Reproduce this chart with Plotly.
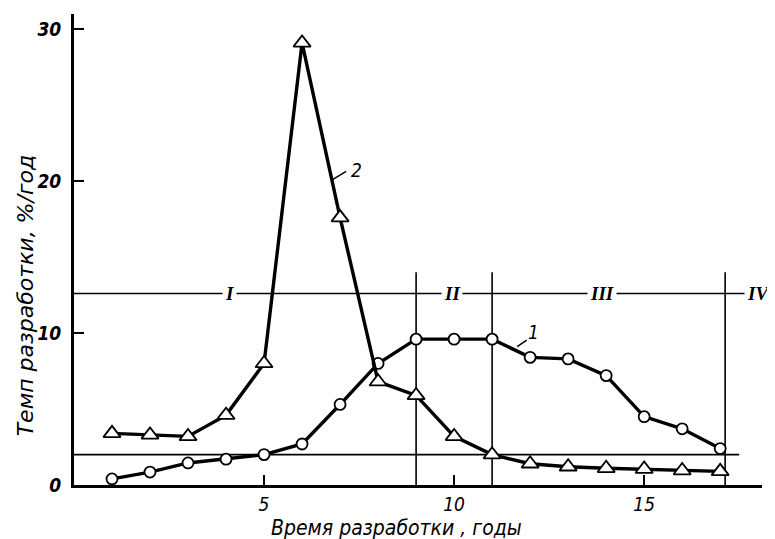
import plotly.graph_objects as go

years = list(range(1, 18))
rate_1 = [0.4, 0.85, 1.45, 1.7, 2.0, 2.7, 5.3, 8.0, 9.6, 9.6, 9.6, 8.4, 8.3, 7.2, 4.5, 3.7, 2.4]
rate_2 = [3.4, 3.3, 3.2, 4.6, 8.0, 29.1, 17.6, 6.8, 5.9, 3.2, 2.0, 1.4, 1.2, 1.1, 1.05, 0.95, 0.9]

x_ticks = [5, 10, 15]
y_ticks = [0, 10, 20, 30]

stage_bounds = [9, 11, 17.13]
stage_level = 12.6
stage_line_end = 17.7
stage_labels = ["I", "II", "III", "IV"]
stage_label_x = [4.1, 9.95, 13.9, 18.0]
low_level = 2.0
low_line_end = 17.5

FONT = "DejaVu Sans Condensed"

fig = go.Figure()

# reference lines
fig.add_trace(go.Scatter(x=[0, stage_line_end], y=[stage_level, stage_level], mode="lines",
                         line=dict(color="black", width=1.6), hoverinfo="skip", showlegend=False))
fig.add_trace(go.Scatter(x=[0, low_line_end], y=[low_level, low_level], mode="lines",
                         line=dict(color="black", width=1.6), hoverinfo="skip", showlegend=False))
for b in stage_bounds:
    fig.add_trace(go.Scatter(x=[b, b], y=[0, 14.0], mode="lines",
                             line=dict(color="black", width=1.6), hoverinfo="skip", showlegend=False))

# curves
fig.add_trace(go.Scatter(x=years, y=rate_1, mode="lines+markers",
                         line=dict(color="black", width=3.4),
                         marker=dict(symbol="circle", size=11, color="white",
                                     line=dict(color="black", width=1.8)),
                         showlegend=False))
fig.add_trace(go.Scatter(x=years, y=rate_2, mode="lines+markers",
                         line=dict(color="black", width=3.4),
                         marker=dict(symbol="triangle-up", size=15, color="white",
                                     line=dict(color="black", width=1.8)),
                         showlegend=False))

# stage labels (white background makes gaps in the line)
for lab, lx in zip(stage_labels, stage_label_x):
    fig.add_annotation(x=lx, y=stage_level, text=lab, showarrow=False, xref="x", yref="y",
                       bgcolor="white", borderpad=2,
                       font=dict(family="Liberation Serif", size=19, color="black", style="italic",
                                 weight="bold"))

# curve labels with leaders
fig.add_annotation(x=6.8, y=20.1, ax=7.2, ay=20.7, axref="x", ayref="y", xref="x", yref="y",
                   text="", showarrow=True, arrowhead=0, arrowwidth=1.5, arrowcolor="black")
fig.add_annotation(x=7.42, y=20.7, text="2", showarrow=False,
                   font=dict(family=FONT, size=19, color="black", style="italic"))
fig.add_annotation(x=11.66, y=9.1, ax=11.95, ay=9.6, axref="x", ayref="y", xref="x", yref="y",
                   text="", showarrow=True, arrowhead=0, arrowwidth=1.5, arrowcolor="black")
fig.add_annotation(x=12.08, y=10.1, text="1", showarrow=False,
                   font=dict(family=FONT, size=19, color="black", style="italic"))

# axis titles (paper coordinates)
fig.add_annotation(x=0.469, y=-0.091, xref="paper", yref="paper", xanchor="center", yanchor="middle",
                   text="Время разработки , годы", showarrow=False,
                   font=dict(family=FONT, size=21, color="black", style="italic"))
fig.add_annotation(x=-0.071, y=0.403, xref="paper", yref="paper", xanchor="center", yanchor="middle",
                   text="Темп разработки, %/год", showarrow=False, textangle=-90,
                   font=dict(family="DejaVu Sans", size=22, color="black", style="italic"))

# page body has an 8px margin, so the figure is sized to fit the window
fig.update_layout(
    width=767, height=531,
    margin=dict(l=66, r=13, t=6, b=54),
    paper_bgcolor="white", plot_bgcolor="white",
    xaxis=dict(range=[0, 18.1], tickvals=x_ticks, ticks="inside", ticklen=10, tickwidth=2,
               tickcolor="black", showline=True, linecolor="black", linewidth=3,
               showgrid=False, zeroline=False, ticklabelstandoff=0,
               tickfont=dict(family=FONT, size=19, color="black", style="italic")),
    yaxis=dict(range=[0, 31], tickvals=y_ticks, ticks="inside", ticklen=10, tickwidth=2,
               tickcolor="black", showline=True, linecolor="black", linewidth=3,
               showgrid=False, zeroline=False, ticklabelstandoff=6,
               tickfont=dict(family=FONT, size=19, color="black", style="italic", weight="bold")),
)

fig.write_html("out.html")
